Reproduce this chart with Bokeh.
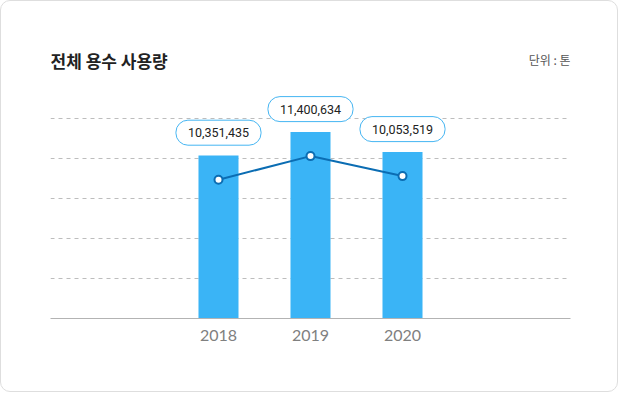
from bokeh.plotting import figure
from bokeh.models import Range1d, FixedTicker, Label
from bokeh.core.properties import value
from bokeh.embed import file_html
from bokeh.resources import INLINE

# ---- data ----
years = [2018, 2019, 2020]
year_labels = ["2018", "2019", "2020"]
bar_values = [8_150_000, 9_320_000, 8_320_000]
line_values = [6_940_000, 8_120_000, 7_120_000]
label_texts = ["10,351,435", "11,400,634", "10,053,519"]
grid_ticks = [2_000_000, 4_000_000, 6_000_000, 8_000_000, 10_000_000]
title_text = "전체 용수 사용량"
unit_text = "단위 : 톤"

W, H = 618, 392
p = figure(
    width=W, height=H, output_backend="svg", toolbar_location=None,
    x_range=Range1d(2016.174, 2021.826), y_range=Range1d(0, 15_850_000),
    min_border_left=49, min_border_right=49, min_border_top=0, min_border_bottom=75,
)
p.background_fill_color = None
p.border_fill_color = None
p.outline_line_color = None
p.styles = {"border": "1px solid #dedede", "border-radius": "10px"}

p.yaxis.visible = False
p.xgrid.visible = False
p.ygrid.ticker = FixedTicker(ticks=grid_ticks)
p.ygrid.grid_line_color = "#bdbdbd"
p.ygrid.grid_line_dash = "4 4"
p.ygrid.grid_line_width = 1

xa = p.xaxis[0]
xa.ticker = FixedTicker(ticks=years)
xa.major_label_overrides = {y: s for y, s in zip(years, year_labels)}
xa.axis_line_color = "#b3b3b3"
xa.axis_line_width = 1
xa.major_tick_line_color = None
xa.minor_tick_line_color = None
xa.major_tick_out = 0
xa.major_tick_in = 0
xa.major_label_standoff = 11
xa.major_label_text_font = "Lato"
xa.major_label_text_font_size = "16px"
xa.major_label_text_color = "#808080"

p.vbar(x=years, top=bar_values, bottom=0, width=0.435,
       fill_color="#3ab4f6", line_color=None)
p.line(years, line_values, line_color="#0b6db3", line_width=2)
p.scatter(years, line_values, size=8, fill_color="white",
          line_color="#0b6db3", line_width=2)

p.text(x=years, y=line_values, text=label_texts, y_offset=-47,
       text_align="center", text_baseline="middle",
       text_font=value("Roboto"), text_font_size="12.5px", text_color="#222222",
       background_fill_color="white", border_line_color="#45b5f2",
       border_line_width=1, border_radius=12,
       padding=dict(left=12, right=12, top=8, bottom=8))

p.add_layout(Label(x=0, y=258, x_units="screen", y_units="screen",
                   text=title_text, text_font="Noto Sans CJK KR",
                   text_font_style="bold", text_font_size="17px",
                   text_color="#222222", text_baseline="middle", text_align="left"))
p.add_layout(Label(x=520, y=259, x_units="screen", y_units="screen",
                   text=unit_text, text_font="Noto Sans CJK KR",
                   text_font_size="12px", text_color="#555555",
                   text_baseline="middle", text_align="right"))

open("out.html", "w").write(file_html(p, INLINE))
